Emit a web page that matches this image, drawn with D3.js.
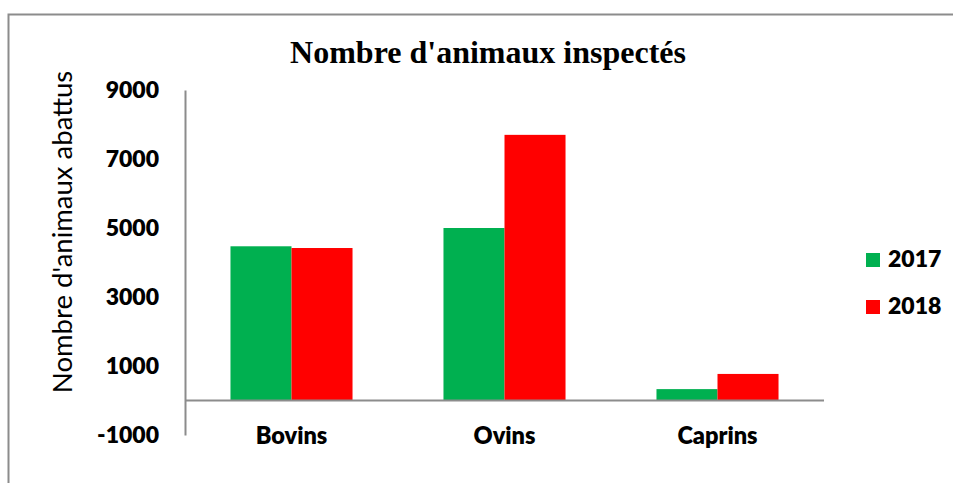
<!DOCTYPE html>
<html>
<head>
<meta charset="utf-8">
<script src="https://cdn.jsdelivr.net/npm/d3@7"></script>
<style>
  html, body { margin: 0; padding: 0; background: #fff; }
  svg { display: block; }
</style>
</head>
<body>
<svg id="chart" width="953" height="483"></svg>
<script>
// Animals inspected per species, by year
const categories = ["Bovins", "Ovins", "Caprins"];
const years = ["2017", "2018"];
const values2017 = [4470, 5000, 330];
const values2018 = [4420, 7700, 770];
const yTicks = [-1000, 1000, 3000, 5000, 7000, 9000];
const colors = ["#00b050", "#ff0000"];

const series = [values2017, values2018];
const sansFont = "Lato, 'Open Sans', sans-serif";

const svg = d3.select("#chart");

// Outer frame (top and left edges visible)
svg.append("path")
  .attr("d", "M8.5,483 L8.5,14.5 L953,14.5")
  .attr("fill", "none")
  .attr("stroke", "#8c8c8c")
  .attr("stroke-width", 2);

const plot = { left: 185, right: 824, top: 90, bottom: 435 };

const y = d3.scaleLinear()
  .domain([-1000, 9000])
  .range([plot.bottom, plot.top]);

const x0 = d3.scaleBand()
  .domain(categories)
  .range([plot.left, plot.right])
  .paddingInner(0.427)
  .paddingOuter(0.2135);

const x1 = d3.scaleBand()
  .domain(years)
  .range([0, x0.bandwidth()]);

// Bars
const groups = svg.append("g")
  .selectAll("g")
  .data(categories)
  .join("g")
  .attr("transform", d => `translate(${x0(d)},0)`);

groups.selectAll("rect")
  .data((d, i) => years.map((yr, j) => ({ yr, v: series[j][i], c: colors[j] })))
  .join("rect")
  .attr("x", d => x1(d.yr))
  .attr("width", x1.bandwidth())
  .attr("y", d => y(Math.max(0, d.v)))
  .attr("height", d => Math.abs(y(d.v) - y(0)))
  .attr("fill", d => d.c);

// Y axis
const yAxis = d3.axisLeft(y)
  .tickValues(yTicks)
  .tickSize(0)
  .tickPadding(26)
  .tickFormat(d => String(d));
const gy = svg.append("g")
  .attr("transform", `translate(${plot.left},0)`)
  .call(yAxis);
gy.select(".domain").attr("stroke", "#8c8c8c").attr("stroke-width", 2);
gy.selectAll("text")
  .attr("font-family", sansFont)
  .attr("font-weight", 800)
  .attr("font-size", 23)
  .attr("fill", "#000");

// Zero baseline (category axis)
svg.append("line")
  .attr("x1", plot.left).attr("x2", plot.right)
  .attr("y1", y(0)).attr("y2", y(0))
  .attr("stroke", "#8c8c8c")
  .attr("stroke-width", 2);

// Category labels
svg.append("g")
  .selectAll("text")
  .data(categories)
  .join("text")
  .attr("x", d => x0(d) + x0.bandwidth() / 2)
  .attr("y", 444)
  .attr("text-anchor", "middle")
  .attr("font-family", sansFont)
  .attr("font-weight", 800)
  .attr("font-size", 23.5)
  .text(d => d);

// Title
svg.append("text")
  .attr("x", 488)
  .attr("y", 63)
  .attr("text-anchor", "middle")
  .attr("font-family", "'Liberation Serif', 'Times New Roman', serif")
  .attr("font-weight", "bold")
  .attr("font-size", 32)
  .text("Nombre d'animaux inspectés");

// Y axis title
svg.append("text")
  .attr("transform", `translate(72,232) rotate(-90)`)
  .attr("text-anchor", "middle")
  .attr("font-family", sansFont)
  .attr("font-size", 27.5)
  .text("Nombre d'animaux abattus");

// Legend
const legend = svg.append("g")
  .selectAll("g")
  .data(years)
  .join("g")
  .attr("transform", (d, i) => `translate(866,${253 + i * 47})`);
legend.append("rect")
  .attr("width", 14).attr("height", 14)
  .attr("fill", (d, i) => colors[i]);
legend.append("text")
  .attr("x", 22).attr("y", 14)
  .attr("font-family", sansFont)
  .attr("font-weight", 800)
  .attr("font-size", 23)
  .text(d => d);
</script>
</body>
</html>
